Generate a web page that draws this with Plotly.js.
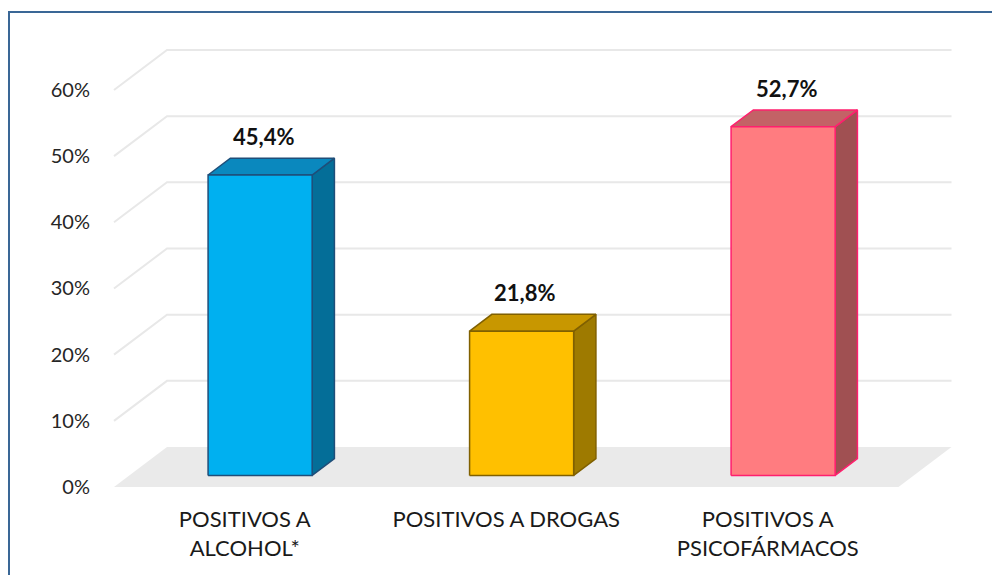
<!DOCTYPE html>
<html>
<head>
<meta charset="utf-8">
<script src="https://cdn.plot.ly/plotly-3.0.1.min.js"></script>
<style>
  html, body { margin: 0; padding: 0; background: #ffffff; overflow: hidden; }
  #wrap { position: relative; width: 992px; height: 575px; }
  #chart { position: absolute; left: 0; top: 0; width: 992px; height: 575px; }
  #frame { position: absolute; left: 8px; top: 11px; width: 1000px; height: 600px;
           border-left: 2px solid #3A6796; border-top: 2px solid #3A6796; pointer-events: none; }
</style>
</head>
<body>
<div id="wrap">
  <div id="chart"></div>
  <div id="frame"></div>
</div>
<script>
// ---- data ----
const categories = ['POSITIVOS A<br>ALCOHOL*', 'POSITIVOS A DROGAS', 'POSITIVOS A<br>PSICOFÁRMACOS'];
const values = [45.4, 21.8, 52.7];
const valueLabels = ['45,4%', '21,8%', '52,7%'];
const yTickVals = [0, 10, 20, 30, 40, 50, 60];
const yTickText = ['0%', '10%', '20%', '30%', '40%', '50%', '60%'];

// ---- styles ----
const frontColors = ['#00B0F0', '#FFC000', '#FF7C80'];
const topColors   = ['#0A88BE', '#C89700', '#C36266'];
const sideColors  = ['#046E98', '#9E7A00', '#A05052'];
const edgeColors  = ['#1F4E79', '#806000', '#FF1F6E'];

// ---- 3D projection helpers (in data units) ----
const W = 992, H = 575;
const L = 100, R = 962, T = 34, B = 495;     // plot area in px
const frontLeftPx = 114, zeroPx = 487;       // front plane origin
const pxPerCat = 261.5, pxPerPct = 6.617;
const depthDX = 53 / pxPerCat;               // floor depth in x units
const depthDY = 40 / pxPerPct;               // floor depth in y units
const halfW = 0.199, z0 = 0.29, z1 = 0.71;

const xRange = [-0.5 - (frontLeftPx - L) / pxPerCat, -0.5 + (R - frontLeftPx) / pxPerCat];
const yRange = [-(B - zeroPx) / pxPerPct, (zeroPx - T) / pxPerPct];
const nCat = categories.length;

const traces = [];
// floor
traces.push({
  x: [-0.5, nCat - 0.5, nCat - 0.5 + depthDX, -0.5 + depthDX, -0.5],
  y: [0, 0, depthDY, depthDY, 0],
  mode: 'lines', fill: 'toself', fillcolor: '#EAEAEA',
  line: {width: 0, color: 'rgba(0,0,0,0)'}, hoverinfo: 'skip', showlegend: false
});
// gridlines (left wall diagonal + back wall)
yTickVals.filter(v => v > 0).forEach(v => {
  traces.push({
    x: [-0.5, -0.5 + depthDX, nCat - 0.5 + depthDX],
    y: [v, v + depthDY, v + depthDY],
    mode: 'lines', line: {color: '#E8E8E8', width: 2},
    hoverinfo: 'skip', showlegend: false
  });
});
// bars
const ddx = (z1 - z0) * depthDX, ddy = (z1 - z0) * depthDY;
values.forEach((v, i) => {
  const xl = i - halfW + z0 * depthDX, xr = i + halfW + z0 * depthDX;
  const yb = z0 * depthDY, yt = v + z0 * depthDY;
  const edge = {color: edgeColors[i], width: 1.5};
  // side
  traces.push({x: [xr, xr + ddx, xr + ddx, xr, xr], y: [yb, yb + ddy, yt + ddy, yt, yb],
    mode: 'lines', fill: 'toself', fillcolor: sideColors[i], line: edge, hoverinfo: 'skip', showlegend: false});
  // top
  traces.push({x: [xl, xr, xr + ddx, xl + ddx, xl], y: [yt, yt, yt + ddy, yt + ddy, yt],
    mode: 'lines', fill: 'toself', fillcolor: topColors[i], line: edge, hoverinfo: 'skip', showlegend: false});
  // front
  traces.push({x: [xl, xr, xr, xl, xl], y: [yb, yb, yt, yt, yb],
    mode: 'lines', fill: 'toself', fillcolor: frontColors[i], line: edge, hoverinfo: 'skip', showlegend: false});
});

const annotations = values.map((v, i) => ({
  x: i + 0.35 * depthDX, y: v + z1 * depthDY, xref: 'x', yref: 'y',
  text: '<b>' + valueLabels[i] + '</b>', showarrow: false,
  yanchor: 'bottom', yshift: 6,
  font: {family: 'Lato, "Open Sans", sans-serif', size: 22, color: '#111111'}
}));

const layout = {
  width: W, height: H,
  margin: {l: L, r: W - R, t: T, b: H - B, pad: 0},
  paper_bgcolor: '#ffffff', plot_bgcolor: 'rgba(0,0,0,0)',
  showlegend: false,
  xaxis: {
    range: xRange, showgrid: false, zeroline: false, showline: false,
    tickmode: 'array', tickvals: categories.map((c, i) => i), ticktext: categories,
    ticks: 'outside', ticklen: 5, tickcolor: 'rgba(0,0,0,0)',
    tickfont: {family: 'Lato, "Open Sans", sans-serif', size: 22, color: '#1a1a1a'},
    fixedrange: true
  },
  yaxis: {
    range: yRange, showgrid: false, zeroline: false, showline: false,
    tickmode: 'array', tickvals: yTickVals, ticktext: yTickText,
    ticks: 'outside', ticklen: 5, tickcolor: 'rgba(0,0,0,0)',
    tickfont: {family: 'Lato, "Open Sans", sans-serif', size: 20, color: '#262626'},
    fixedrange: true
  },
  annotations: annotations
};

Plotly.newPlot('chart', traces, layout, {displayModeBar: false, staticPlot: true});
</script>
</body>
</html>
